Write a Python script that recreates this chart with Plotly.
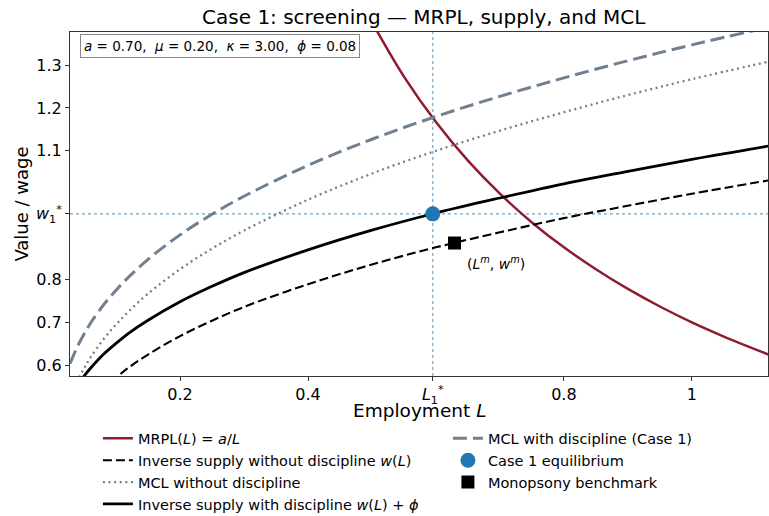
import plotly.graph_objects as go

# Model parameters shown in the info box
a, mu, kappa, phi = 0.70, 0.20, 3.00, 0.08

# Employment grid for the supply / MCL curves
L_grid = [0.028, 0.03, 0.04, 0.05, 0.06, 0.08, 0.10, 0.12, 0.15, 0.20, 0.25,
          0.30, 0.40, 0.50, 0.60, 0.70, 0.80, 0.90, 1.00, 1.12]
# Inverse supply without discipline w(L)
w_no_disc = [0.443, 0.449, 0.474, 0.495, 0.513, 0.545, 0.571, 0.595, 0.625, 0.668,
             0.704, 0.736, 0.789, 0.835, 0.875, 0.910, 0.943, 0.972, 1.000, 1.031]
# Inverse supply with discipline w(L) + phi
w_disc = [0.523, 0.529, 0.554, 0.575, 0.593, 0.625, 0.651, 0.675, 0.705, 0.748,
          0.784, 0.816, 0.869, 0.915, 0.955, 0.990, 1.023, 1.052, 1.080, 1.111]
# Marginal cost of labour without discipline
mcl_no_disc = [0.524, 0.531, 0.565, 0.593, 0.618, 0.660, 0.695, 0.726, 0.767, 0.824,
               0.872, 0.914, 0.986, 1.047, 1.100, 1.147, 1.190, 1.230, 1.267, 1.308]
# Marginal cost of labour with discipline (Case 1)
mcl_disc = [0.604, 0.611, 0.645, 0.673, 0.698, 0.740, 0.775, 0.806, 0.847, 0.904,
            0.952, 0.994, 1.066, 1.127, 1.180, 1.227, 1.270, 1.310, 1.347, 1.388]

# Marginal revenue product of labour a/L
L_mrpl = [0.50, 0.55, 0.60, 0.65, 0.70, 0.75, 0.80, 0.85, 0.90, 0.95, 1.00, 1.05, 1.12]
mrpl = [1.400, 1.273, 1.167, 1.077, 1.000, 0.933, 0.875, 0.824, 0.778, 0.737,
        0.700, 0.667, 0.625]

# Case 1 equilibrium and monopsony benchmark
L_star, w_star = 0.595, 0.953
L_m, w_m = 0.629, 0.885

x_tickvals = [0.2, 0.4, L_star, 0.8, 1.0]
x_ticktext = ["0.2", "0.4", "<i>L</i><sub>1</sub><sup>*</sup>", "0.8", "1"]
y_tickvals = [0.6, 0.7, 0.8, w_star, 1.1, 1.2, 1.3]
y_ticktext = ["0.6", "0.7", "0.8", "<i>w</i><sub>1</sub><sup>*</sup>", "1.1", "1.2", "1.3"]

RED = "#8e1b2e"
SLATE = "#708090"
BLUE = "#1f77b4"
FONT = "DejaVu Sans"

fig = go.Figure()

fig.add_trace(go.Scatter(
    x=L_mrpl, y=mrpl, mode="lines", line=dict(color=RED, width=2.5, shape="spline"),
    name="MRPL(<i>L</i>) = <i>a</i>/<i>L</i>", legendrank=1))
fig.add_trace(go.Scatter(
    x=L_grid, y=w_no_disc, mode="lines",
    line=dict(color="black", width=2.1, dash="9px,4px", shape="spline"),
    name="Inverse supply without discipline <i>w</i>(<i>L</i>)", legendrank=3))
fig.add_trace(go.Scatter(
    x=L_grid, y=mcl_no_disc, mode="lines",
    line=dict(color=SLATE, width=2.3, dash="2px,3.6px", shape="spline"),
    name="MCL without discipline", legendrank=5))
fig.add_trace(go.Scatter(
    x=L_grid, y=w_disc, mode="lines",
    line=dict(color="black", width=2.8, shape="spline"),
    name="Inverse supply with discipline <i>w</i>(<i>L</i>) + <i>ϕ</i>", legendrank=7))
fig.add_trace(go.Scatter(
    x=L_grid, y=mcl_disc, mode="lines",
    line=dict(color=SLATE, width=3, dash="14px,6px", shape="spline"),
    name="MCL with discipline (Case 1)", legendrank=2))
fig.add_trace(go.Scatter(
    x=[L_star], y=[w_star], mode="markers",
    marker=dict(color=BLUE, size=15, symbol="circle"),
    name="Case 1 equilibrium", legendrank=4))
fig.add_trace(go.Scatter(
    x=[L_m], y=[w_m], mode="markers",
    marker=dict(color="black", size=13, symbol="square"),
    name="Monopsony benchmark", legendrank=6))

# Dotted guides through the equilibrium
fig.add_shape(type="line", xref="x", yref="paper", x0=L_star, x1=L_star, y0=0, y1=1,
              line=dict(color="rgba(31,119,180,0.65)", width=1.2, dash="dot"), layer="below")
fig.add_shape(type="line", xref="paper", yref="y", x0=0, x1=1, y0=w_star, y1=w_star,
              line=dict(color="rgba(31,119,180,0.65)", width=1.2, dash="dot"), layer="below")

fig.add_annotation(x=L_m, y=w_m, xref="x", yref="y", xanchor="left", yanchor="middle",
                   xshift=10, yshift=-20, showarrow=False,
                   text="(<i>L</i><sup><i>m</i></sup>, <i>w</i><sup><i>m</i></sup>)",
                   font=dict(family=FONT, size=14, color="black"))

fig.add_annotation(
    x=0.0143, y=0.995, xref="paper", yref="paper", xanchor="left", yanchor="top",
    showarrow=False, align="left",
    text=("<i>a</i> = 0.70,\u00a0 <i>μ</i> = 0.20,\u00a0 <i>κ</i> = 3.00,\u00a0 "
          "<i>ϕ</i> = 0.08"),
    font=dict(family=FONT, size=13.5, color="black"),
    bgcolor="white", bordercolor="#888888", borderwidth=1, borderpad=3)

# x-axis title placed just under the tick labels
fig.add_annotation(x=0.5, y=-0.065, xref="paper", yref="paper", xanchor="center",
                   yanchor="top", showarrow=False, text="Employment <i>L</i>",
                   font=dict(family=FONT, size=18.5, color="black"))

axis_common = dict(showline=True, linecolor="#333333", linewidth=1, mirror=True,
                   ticks="outside", ticklen=4, tickcolor="#333333", showgrid=False,
                   zeroline=False, tickfont=dict(family=FONT, size=16, color="black"))

fig.update_layout(
    width=769, height=516,
    margin=dict(l=70, r=1, t=32, b=140, autoexpand=False),
    paper_bgcolor="white", plot_bgcolor="white",
    font=dict(family=FONT, color="black"),
    title=dict(text="Case 1: screening — MRPL, supply, and MCL",
               x=0.551, xanchor="center", y=1 - 17 / 516, yanchor="middle",
               font=dict(family=FONT, size=20, color="black")),
    xaxis=dict(range=[0.028, 1.119], tickvals=x_tickvals, ticktext=x_ticktext,
               **axis_common),
    yaxis=dict(range=[0.575, 1.377], tickvals=y_tickvals, ticktext=y_ticktext,
               title=dict(text="Value / wage", font=dict(family=FONT, size=18),
                          standoff=2),
               **axis_common),
    legend=dict(orientation="h", x=0.040, xanchor="left", y=-0.135, yanchor="top",
                entrywidth=305, entrywidthmode="pixels", traceorder="normal",
                font=dict(family=FONT, size=14.5, color="black"),
                bgcolor="rgba(0,0,0,0)", itemwidth=30),
)

fig.write_html("out.html")
